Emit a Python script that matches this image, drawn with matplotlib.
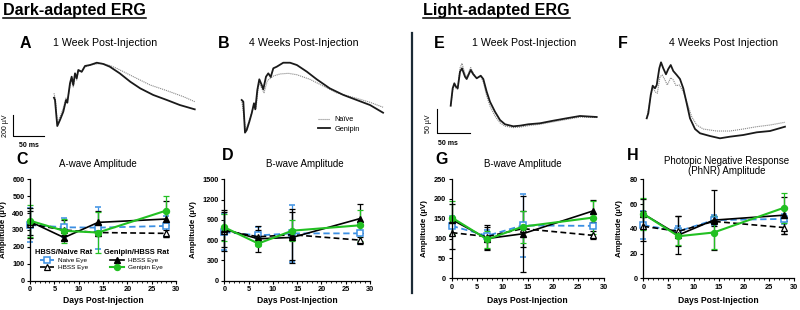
import numpy as np
import matplotlib
matplotlib.use("Agg")
import matplotlib.pyplot as plt
from matplotlib.lines import Line2D

W, H = 800, 310
plt.rcParams['font.family'] = ['Liberation Sans', 'DejaVu Sans']

# ---- ERG traces (time in ms, amplitude in uV) ----
# A: dark-adapted, 1 week
a_gen_t = [0, 1.6, 5.3, 9.7, 15, 19.4, 21.5, 25.8, 28.5, 31.1, 33.9, 36.6, 39.2, 44.7, 50, 58, 69, 79.5, 90, 106, 123, 139, 160, 182, 203, 227]
a_gen_v = [3, -19, -267, -209, -130, -19, -45, 140, 203, 124, 235, 188, 267, 250, 305, 314, 336, 324, 298, 235, 155, 92, 29, -19, -67, -108]
a_nai_t = [0, 2.4, 5.3, 9.7, 15, 19.4, 21.5, 25.8, 28.5, 31.1, 33.9, 36.6, 39.2, 44.7, 50, 58, 69, 77, 90, 101, 128, 155, 182, 209, 227]
a_nai_v = [45, -19, -241, -181, -95, 0, -29, 114, 171, 105, 219, 171, 257, 248, 295, 314, 324, 330, 310, 283, 203, 124, 70, 12, -35]
# B: dark-adapted, 4 weeks
b_gen_t = [0, 2.6, 5.3, 8.1, 12.3, 16.1, 19.8, 21.9, 25.2, 28.4, 32.3, 34.8, 39.2, 42.9, 46.8, 51, 56.5, 67, 78, 89, 105, 121, 142, 164, 185.5, 207, 228]
b_gen_v = [0, -16, -311, -286, -207, -127, -31, -89, 95, 197, 143, 102, 222, 254, 219, 302, 317, 355, 355, 333, 270, 197, 111, 48, 0, -48, -121]
b_nai_t = [0, 6.5, 13.4, 19.8, 23.1, 27.4, 31.6, 36, 41.3, 51, 61.8, 75.2, 88.7, 110, 131.6, 153, 185.5, 207, 228]
b_nai_v = [0, -286, -174, -48, -79, 159, 121, 69, 184, 228, 248, 254, 241, 197, 133, 69, 16, -22, -69]
# E: light-adapted, 1 week
e_gen_t = [0, 3, 5.5, 8, 10.6, 14.1, 17.1, 21.7, 24.2, 30.3, 34.2, 39.4, 45.5, 49.4, 54.5, 59.5, 67.1, 74.7, 82.3, 94.8, 105, 117.6, 135.3, 155.4, 175.7, 195.9, 221.2]
e_gen_v = [0.6, 36.9, 47.3, 40.2, 36.9, 71.4, 78.5, 61, 56.2, 75, 66, 57.7, 63.1, 56.2, 29.8, 9, -11.9, -29.2, -38.1, -42.3, -41, -38.1, -36, -30.6, -25.6, -20.8, -22.9]
e_nai_t = [0, 3, 5.5, 8, 10.6, 14.1, 17.1, 21.7, 24.2, 30.3, 34.2, 39.4, 45.5, 49.4, 54.5, 59.5, 67.1, 74.7, 82.3, 94.8, 105, 117.6, 135.3, 155.4, 175.7, 195.9, 221.2]
e_nai_v = [0.6, 33, 44, 37, 35, 79, 89, 67, 60, 80, 69, 58, 62, 50, 21, 0, -21, -35, -42, -45, -44, -41, -38, -33, -28, -23, -24]
# F: light-adapted, 4 weeks
f_gen_t = [0, 2.4, 6.1, 9.1, 12.6, 15.2, 19.1, 21.7, 25.1, 29.2, 32.7, 36.4, 40.3, 45.5, 50.4, 55.4, 60.6, 65.6, 73.2, 80.8, 95.9, 111, 126.2, 146.3, 166.7, 186.8, 209.5]
f_gen_v = [0, 10.4, 48.5, 67.9, 62.5, 69.4, 104.2, 116.6, 104.2, 91.7, 102.7, 111, 98.5, 90.2, 81.9, 62.5, 31.2, 0, -22.3, -31.2, -36.9, -41.7, -38.3, -34.8, -29.2, -26.5, -17.5]
f_nai_t = [0, 6.1, 9.1, 12.6, 16.1, 20.1, 23.6, 27.7, 31.2, 36.4, 40.3, 44.4, 49.4, 55.4, 61.5, 68.2, 75.8, 85.7, 106, 126.2, 146.3, 166.7, 186.8, 209.5]
f_nai_v = [0, 45, 65.8, 55.4, 52.1, 86.7, 90.2, 79.8, 69.4, 84.6, 79.8, 67.9, 69.4, 55.4, 31.2, 3.3, -14, -22.3, -26.5, -26.5, -22.3, -17.5, -14, -8.3]

# ---- amplitude summaries ----
days = [0, 7, 14, 28]
# C: A-wave (dark)
c_mean = {'naive': [330, 316, 314, 324], 'hbss': [335, 300, 285, 280],
          'g_hbss': [350, 255, 345, 365], 'genipin': [355, 295, 285, 415]}
c_err = {'naive': [100, 55, 125, 60], 'hbss': [80, 60, 20, 20],
         'g_hbss': [80, 15, 65, 105], 'genipin': [95, 70, 120, 85]}
# D: B-wave (dark)
d_mean = {'naive': [720, 670, 700, 700], 'hbss': [740, 650, 680, 600],
          'g_hbss': [760, 620, 640, 920], 'genipin': [790, 550, 740, 820]}
d_err = {'naive': [260, 120, 420, 150], 'hbss': [300, 100, 380, 50],
         'g_hbss': [260, 190, 380, 210], 'genipin': [200, 40, 160, 230]}
# G: B-wave (light)
g_mean = {'naive': [132, 107, 133, 132], 'hbss': [115, 105, 125, 108],
          'g_hbss': [148, 100, 112, 170], 'genipin': [153, 98, 130, 153]}
g_err = {'naive': [25, 15, 80, 30], 'hbss': [40, 30, 45, 10],
         'g_hbss': [40, 30, 95, 28], 'genipin': [42, 22, 40, 42]}
# H: PhNR (light)
h_mean = {'naive': [43, 38, 47, 48], 'hbss': [42, 38, 46, 41],
          'g_hbss': [52, 35, 47, 51], 'genipin': [52, 34, 37, 57]}
h_err = {'naive': [11, 4, 4, 4], 'hbss': [12, 12, 4, 5],
         'g_hbss': [12, 15, 24, 15], 'genipin': [13, 7, 13, 12]}

BLUE = '#3b8fe3'
GREEN = '#22c022'
styles = {
    'naive':   dict(color=BLUE, ls=(0, (3.5, 2)), marker='s', mfc='white', mec=BLUE, ms=4.3, mew=1.1, lw=1.3),
    'hbss':    dict(color='black', ls=(0, (3.5, 2)), marker='^', mfc='white', mec='black', ms=4.5, mew=0.9, lw=1.2),
    'g_hbss':  dict(color='black', ls='-', marker='^', mfc='black', mec='black', ms=4.5, lw=1.2),
    'genipin': dict(color=GREEN, ls='-', marker='o', mfc=GREEN, mec=GREEN, ms=4.3, lw=1.5),
}

fig = plt.figure(figsize=(W / 100, H / 100), dpi=100)


def px_axes(x0, y0, x1, y1):
    return fig.add_axes([x0 / W, 1 - y1 / H, (x1 - x0) / W, (y1 - y0) / H])


def trace_axes(ox, oy, sx, sy, xlim, ylim):
    ax = px_axes(ox + xlim[0] * sx, oy - ylim[1] * sy, ox + xlim[1] * sx, oy - ylim[0] * sy)
    ax.set_xlim(xlim)
    ax.set_ylim(ylim)
    ax.axis('off')
    return ax


def ftext(x, y, s, **kw):
    return fig.text(x / W, 1 - y / H, s, **kw)


# headers
hdr1 = ftext(3, 10, 'Dark-adapted ERG', fontsize=11.6, fontweight='bold', va='center')
hdr2 = ftext(423, 10, 'Light-adapted ERG', fontsize=11.6, fontweight='bold', va='center')
fig.add_artist(Line2D([412 / W, 412 / W], [1 - 33 / H, 1 - 293 / H], color='#1c2b36', lw=1.6))

# trace panel labels
for lx, tx, letter, title in [(20, 53, 'A', '1 Week Post-Injection'),
                              (218, 249, 'B', '4 Weeks Post-Injection'),
                              (434, 472, 'E', '1 Week Post-Injection'),
                              (618, 669, 'F', '4 Weeks Post Injection')]:
    ftext(lx, 43, letter, fontsize=11.5, fontweight='bold', va='center')
    ftext(tx, 43, title, fontsize=7.7, va='center')

dark_sx, dark_sy = 0.62, 0.105
light_sx, light_sy = 0.66, 0.48
gen_kw = dict(color='#1a1a1a', lw=1.3)
nai_kw = dict(color='#888888', lw=0.8, ls=(0, (1, 0.8)))

axA = trace_axes(54, 98, dark_sx, dark_sy, (-5, 232), (-320, 380))
axA.plot(a_nai_t, a_nai_v, **nai_kw)
axA.plot(a_gen_t, a_gen_v, **gen_kw)
# scale bar 50 ms / 200 uV
axA.plot([-66, -66, -16], [-162, -362, -362], color='black', lw=0.8, clip_on=False)
axA.text(-41, -420, '50 ms', fontsize=5, fontweight='bold', ha='center', va='top', clip_on=False)
axA.text(-79, -267, '200 µV', fontsize=5, rotation=90, ha='center', va='center', clip_on=False)

axB = trace_axes(241.7, 100, dark_sx, dark_sy, (-5, 232), (-330, 380))
axB.plot(b_nai_t, b_nai_v, label='Naïve', **nai_kw)
axB.plot(b_gen_t, b_gen_v, label='Genipin', **gen_kw)
axB.legend(loc='upper left', bbox_to_anchor=(318 / W, 1 - 116 / H), bbox_transform=fig.transFigure,
           frameon=False, fontsize=5.3, handlelength=1.6, handletextpad=0.6, labelspacing=0.3,
           borderpad=0, borderaxespad=0)

axE = trace_axes(450.7, 106, light_sx, light_sy, (-5, 225), (-50, 95))
axE.plot(e_nai_t, e_nai_v, **nai_kw)
axE.plot(e_gen_t, e_gen_v, **gen_kw)
axE.plot([-21, -21, 29], [-6, -56, -56], color='black', lw=0.8, clip_on=False)
axE.text(-4, -70, '50 ms', fontsize=5, fontweight='bold', ha='center', va='top', clip_on=False)
axE.text(-34, -36, '50 µV', fontsize=5, rotation=90, ha='center', va='center', clip_on=False)

axF = trace_axes(646.7, 118.3, light_sx, light_sy, (-5, 215), (-45, 125))
axF.plot(f_nai_t, f_nai_v, **nai_kw)
axF.plot(f_gen_t, f_gen_v, **gen_kw)


# ---- amplitude panels ----
def amp_panel(box, ymax, ystep, means, errs, letter, lpos, title, tpos, ylab_x):
    x0, y0, x1, y1 = box
    ax = px_axes(x0, y0, x1, y1)
    for key in ['naive', 'hbss', 'g_hbss', 'genipin']:
        st = styles[key]
        cont = ax.errorbar(days, means[key], yerr=errs[key], capsize=2, elinewidth=0.9,
                           capthick=0.9, ecolor=st['color'], **st)
        for art in cont.get_children():
            art.set_clip_on(False)
    ax.set_xlim(0, 30)
    ax.set_ylim(0, ymax)
    ax.set_xticks(np.arange(0, 31, 5))
    ax.set_xticks(np.arange(0, 31, 1), minor=True)
    ax.set_yticks(np.arange(0, ymax + 1, ystep))
    for s in ['top', 'right']:
        ax.spines[s].set_visible(False)
    for s in ['left', 'bottom']:
        ax.spines[s].set_linewidth(0.9)
    ax.tick_params(which='major', length=2.5, width=0.8, labelsize=5.3, pad=1.5)
    ax.tick_params(which='minor', length=1.5, width=0.6)
    for lbl in ax.get_xticklabels() + ax.get_yticklabels():
        lbl.set_fontweight('bold')
    ax.set_xlabel('Days Post-Injection', fontsize=6.2, fontweight='bold')
    ax.xaxis.set_label_coords(0.5, -(296 - y1) / (y1 - y0))
    ax.set_ylabel('Amplitude (µV)', fontsize=5.8, fontweight='bold')
    ax.yaxis.set_label_coords((ylab_x - x0) / (x1 - x0), 0.5)
    ftext(lpos[0], lpos[1], letter, fontsize=11.5, fontweight='bold', va='center')
    ftext(tpos[0], tpos[1], title, fontsize=7, va='center', ha='center', linespacing=1.1)
    return ax


axC = amp_panel((30, 179.3, 176, 280.7), 600, 100, c_mean, c_err, 'C', (16, 159),
                'A-wave Amplitude', (98, 164), 7)
axD = amp_panel((224.3, 179.3, 370, 280.7), 1500, 300, d_mean, d_err, 'D', (222, 156),
                'B-wave Amplitude', (305, 164), 197)
axG = amp_panel((451.7, 179, 603.6, 278.3), 250, 50, g_mean, g_err, 'G', (435, 159),
                'B-wave Amplitude', (523, 164), 428)
axH = amp_panel((643.3, 179.3, 794, 278.3), 80, 20, h_mean, h_err, 'H', (627, 156),
                'Photopic Negative Response\n(PhNR) Amplitude', (727, 166), 623)

# legend in panel C
leg_kw = dict(frameon=False, fontsize=4.6, handlelength=2.2, handletextpad=0.6, labelspacing=0.25,
              borderpad=0, borderaxespad=0, bbox_transform=fig.transFigure, loc='upper left',
              title_fontproperties={'weight': 'bold', 'size': 5.4})
h_left = [Line2D([], [], **styles['naive']), Line2D([], [], **styles['hbss'])]
h_right = [Line2D([], [], **styles['g_hbss']), Line2D([], [], **styles['genipin'])]
leg1 = axC.legend(h_left, ['Naive Eye', 'HBSS Eye'], title='HBSS/Naive Rat',
                  bbox_to_anchor=(35 / W, 1 - 249 / H), **leg_kw)
axC.add_artist(leg1)
axC.legend(h_right, ['HBSS Eye', 'Genipin Eye'], title='Genipin/HBSS Rat',
           bbox_to_anchor=(104 / W, 1 - 249 / H), **leg_kw)

# underline the section headers
renderer = fig.canvas.get_renderer()
for t in [hdr1, hdr2]:
    bb = t.get_window_extent(renderer=renderer)
    x0, x1 = bb.x0 / (W), bb.x1 / (W)
    fig.add_artist(Line2D([x0, x1], [1 - 17.5 / H, 1 - 17.5 / H], color='black', lw=1.1,
                          transform=fig.transFigure))

fig.savefig('out.png', dpi=100)
